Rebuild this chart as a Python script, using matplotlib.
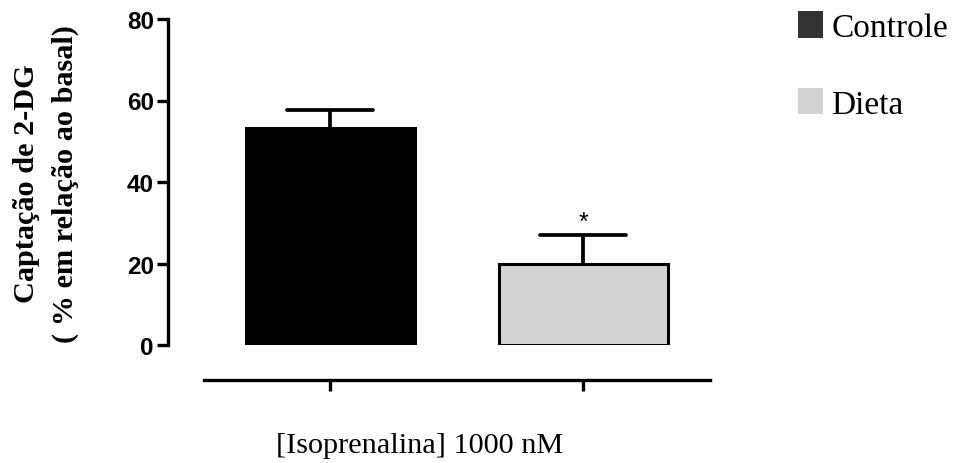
import matplotlib
matplotlib.use("Agg")
import numpy as np
import matplotlib.pyplot as plt
from matplotlib.patches import Patch
from matplotlib.markers import MarkerStyle

categories = ['Controle', 'Dieta']
means = [53.2, 20.0]
sem = [4.5, 7.0]
bar_colors = ['#000000', '#d3d3d3']
legend_colors = ['#333333', '#d3d3d3']
yticks = [0, 20, 40, 60, 80]
significance = ['', '*']
xlabel = '[Isoprenalina] 1000 nM'
ylabel = 'Captação de 2-DG\n( % em relação ao basal)'

W, H = 954, 464
fig = plt.figure(figsize=(W / 100, H / 100), dpi=100)
ax = fig.add_axes([204 / W, 1 - 346 / H, 506 / W, 326 / H])

x = list(range(len(categories)))
ax.bar(x, means, width=0.67, color=bar_colors, edgecolor='black',
       linewidth=2.2, zorder=3)
eb = ax.errorbar(x, means, yerr=[[0] * len(sem), sem], fmt='none',
                 ecolor='black', elinewidth=2.7, capsize=31, capthick=2.7,
                 zorder=2)
for cl in eb[1]:
    if np.allclose(cl.get_ydata(), means):
        cl.remove()
    else:
        cl.set_marker(MarkerStyle('_', capstyle='round'))

for xi, m, s, sig in zip(x, means, sem, significance):
    if sig:
        ax.text(xi, m + s + 1.4, sig, ha='center', va='baseline',
                fontsize=18, family='Liberation Sans')

ax.set_xlim(-0.5, 1.5)
ax.set_ylim(0, 80)
ax.set_yticks(yticks)
ax.set_xticks(x)
for s in ['top', 'right']:
    ax.spines[s].set_visible(False)
ax.spines['left'].set_position(('outward', 26))
ax.spines['bottom'].set_position(('outward', 25.5))
ax.spines['left'].set_bounds(0, 80)
ax.spines['left'].set_linewidth(2.4)
ax.spines['bottom'].set_linewidth(2.4)
ax.tick_params(axis='y', length=8, width=2.4, direction='out', pad=2,
               labelsize=17)
ax.tick_params(axis='x', length=8, width=2.4, direction='out',
               labelbottom=False)
ax.set_yticklabels([str(t) for t in yticks])
for lab in ax.get_yticklabels():
    lab.set_fontweight('bold')
    lab.set_family('Liberation Sans')
    lab.set_fontsize(17.5)

fig.text(46 / W, 1 - 184 / H, ylabel, rotation=90, ha='center', va='center',
         multialignment='center', fontsize=21.8, fontweight='bold',
         family='Liberation Serif', linespacing=1.55)
fig.text(420 / W, 1 - 446 / H, xlabel, ha='center', va='center',
         fontsize=21.8, family='Liberation Serif')

handles = [Patch(facecolor=c, edgecolor='none') for c in legend_colors]
fig.legend(handles, categories, loc='upper left',
           bbox_to_anchor=(798 / W, 1 - 12 / H), frameon=False,
           prop={'family': 'Liberation Serif', 'size': 24},
           handlelength=0.75, handleheight=0.85, handletextpad=0.25,
           labelspacing=1.35, borderaxespad=0, borderpad=0)

fig.savefig('out.png', dpi=100)
